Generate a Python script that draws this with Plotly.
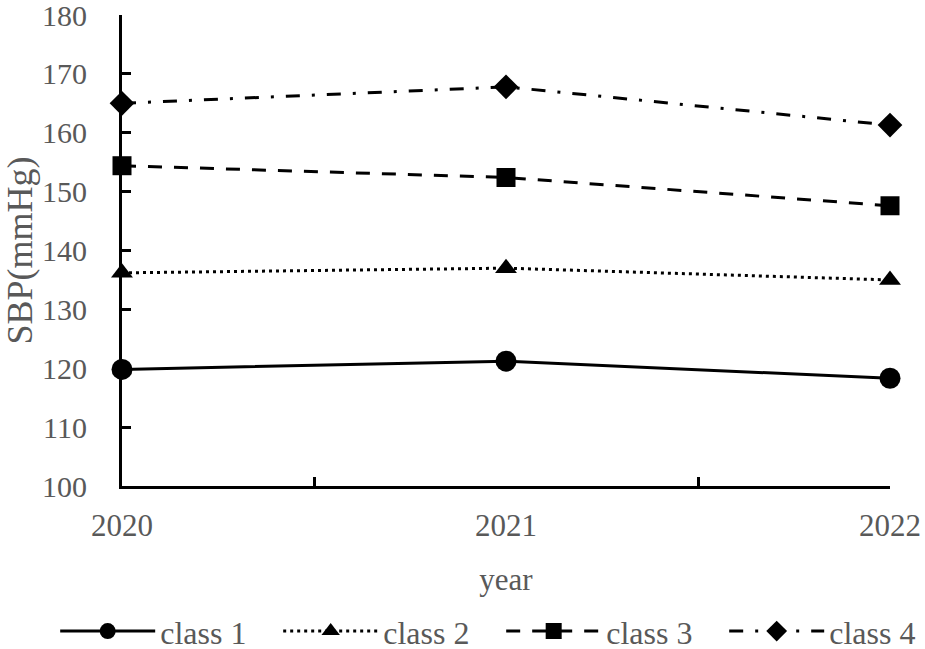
import plotly.graph_objects as go

years = [2020, 2021, 2022]
class1 = [119.8, 121.2, 118.3]
class2 = [136.2, 137.0, 135.0]
class3 = [154.4, 152.4, 147.6]
class4 = [165.0, 167.8, 161.3]
names = ["class 1", "class 2", "class 3", "class 4"]
ytick_vals = list(range(100, 181, 10))

FONT = "Liberation Serif, Times New Roman, serif"
GREY = "#595959"

fig = go.Figure()
styles = [
    ("solid", "circle", 21),
    ("3px,4px", "triangle-up", 19),
    ("14px,12px", "square", 19),
    ("14px,12px,3px,12px", "diamond", 19),
]
for name, vals, (dash, sym, sz) in zip(names, [class1, class2, class3, class4], styles):
    fig.add_trace(go.Scatter(
        x=years, y=vals, name=name, mode="lines+markers", cliponaxis=False,
        line=dict(color="black", width=3, dash=dash),
        marker=dict(symbol=sym, size=sz, color="black"),
    ))

# invisible trace on secondary x axis to carry labels at category positions
fig.add_trace(go.Scatter(x=years, y=[None]*3, xaxis="x2", showlegend=False, hoverinfo="skip"))

fig.update_layout(
    width=925, height=649,
    margin=dict(l=122, r=35, t=15, b=163, autoexpand=False),
    paper_bgcolor="white", plot_bgcolor="white",
    font=dict(family=FONT, size=30, color=GREY),
    xaxis=dict(
        range=[2020, 2022], tickvals=[2020, 2020.5, 2021.5, 2022],
        ticktext=["", "", "", ""], ticks="inside", ticklen=9, tickwidth=3,
        tickcolor="black", showline=True, linecolor="black", linewidth=3,
        showgrid=False, zeroline=False, automargin=False,
        title=dict(text="year", font=dict(size=31, color=GREY), standoff=75),
    ),
    xaxis2=dict(
        range=[2020, 2022], overlaying="x", side="bottom", anchor="y",
        tickvals=years, ticktext=[str(y) for y in years], ticks="",
        showline=False, showgrid=False, zeroline=False, automargin=False,
        tickfont=dict(size=31, color=GREY), ticklabelstandoff=18,
        ticklabeloverflow="allow",
    ),
    yaxis=dict(
        range=[100, 180], tickvals=ytick_vals, ticks="inside", ticklen=9,
        tickwidth=3, tickcolor="black", showline=True, linecolor="black",
        linewidth=3, showgrid=False, zeroline=False, automargin=False,
        tickfont=dict(size=30, color=GREY), ticklabelstandoff=26,
        ticklabeloverflow="allow",
        title=dict(text="SBP(mmHg)", font=dict(size=36, color=GREY), standoff=8),
    ),
    legend=dict(
        orientation="h", x=-0.087, xanchor="left", y=-0.250, yanchor="top",
        font=dict(size=32, color=GREY), itemwidth=95, tracegroupgap=0,
        entrywidth=113,
    ),
    showlegend=True,
)
fig.write_html(
    "out.html",
    config={"displayModeBar": False},
    post_script="document.body.style.margin='0';document.body.style.overflow='hidden';",
)
